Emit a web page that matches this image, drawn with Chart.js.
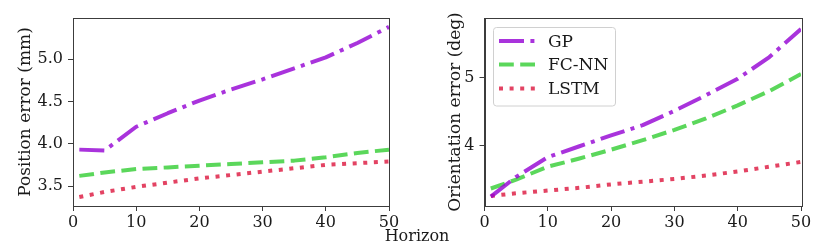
<!DOCTYPE html>
<html>
<head>
<meta charset="utf-8">
<script src="https://cdn.jsdelivr.net/npm/chart.js@4.4.1/dist/chart.umd.min.js"></script>
<style>
  html, body { margin: 0; padding: 0; background: #fff; }
  body { width: 830px; height: 242px; position: relative; overflow: hidden; }
  .pane { position: absolute; top: 0; width: 415px; height: 242px; }
  #horizon { position: absolute; left: 0; width: 834px; text-align: center; top: 226px;
             font-family: 'DejaVu Serif', serif; font-size: 16px; color: #1a1a1a; line-height: 19px; }
</style>
</head>
<body>
<div class="pane" style="left:0"><canvas id="cPos" width="415" height="242"></canvas></div>
<div class="pane" style="left:415px"><canvas id="cOri" width="415" height="242"></canvas></div>
<div id="horizon">Horizon</div>
<script>
// ---- data ----
const horizon = [1, 5, 10, 15, 20, 25, 30, 35, 40, 45, 50];
const seriesNames = ['GP', 'FC-NN', 'LSTM'];
const posGP   = [3.93, 3.92, 4.20, 4.36, 4.51, 4.64, 4.76, 4.89, 5.02, 5.19, 5.38];
const posFCNN = [3.62, 3.66, 3.70, 3.72, 3.74, 3.76, 3.78, 3.80, 3.84, 3.89, 3.93];
const posLSTM = [3.37, 3.43, 3.49, 3.54, 3.59, 3.63, 3.67, 3.71, 3.75, 3.77, 3.79];
const oriGP   = [3.25, 3.54, 3.83, 3.99, 4.15, 4.30, 4.51, 4.74, 4.98, 5.30, 5.71];
const oriFCNN = [3.37, 3.50, 3.69, 3.81, 3.94, 4.08, 4.23, 4.40, 4.59, 4.80, 5.05];
const oriLSTM = [3.26, 3.30, 3.34, 3.38, 3.43, 3.47, 3.51, 3.56, 3.62, 3.69, 3.76];
const xTicks = [0, 10, 20, 30, 40, 50];
const posYTicks = [3.5, 4.0, 4.5, 5.0];
const oriYTicks = [4, 5];

const FONT = "'DejaVu Serif', serif";
const colors = ['rgba(148,0,211,0.8)', 'rgba(50,205,50,0.8)', 'rgba(220,20,60,0.8)'];
const dashes = [[25, 6.4, 4, 6.4], [14.8, 6.4], [4, 6.6]];
const LW = 4;

function makeDatasets(arrs) {
  return arrs.map((arr, i) => ({
    label: seriesNames[i],
    data: horizon.map((h, j) => ({ x: h, y: arr[j] })),
    borderColor: colors[i],
    backgroundColor: colors[i],
    borderWidth: LW,
    borderDash: dashes[i],
    borderCapStyle: 'butt',
    borderJoinStyle: 'round',
    pointRadius: 0,
    tension: 0,
    fill: false
  }));
}

const framePlugin = {
  id: 'frame',
  afterDatasetsDraw(chart) {
    const a = chart.chartArea, ctx = chart.ctx;
    ctx.save();
    ctx.strokeStyle = '#3c3c3c';
    ctx.lineWidth = 1;
    ctx.strokeRect(Math.round(a.left) + 0.5, Math.round(a.top) + 0.5,
                   Math.round(a.right - a.left), Math.round(a.bottom - a.top));
    ctx.restore();
  }
};

const legendPlugin = {
  id: 'boxLegend',
  afterDraw(chart, args, opts) {
    if (!opts || !opts.show) return;
    const ctx = chart.ctx;
    ctx.save();
    const bx = 78.5, by = 27.5, bw = 122, bh = 78.5, r = 3;
    ctx.beginPath();
    ctx.moveTo(bx + r, by);
    ctx.arcTo(bx + bw, by, bx + bw, by + bh, r);
    ctx.arcTo(bx + bw, by + bh, bx, by + bh, r);
    ctx.arcTo(bx, by + bh, bx, by, r);
    ctx.arcTo(bx, by, bx + bw, by, r);
    ctx.closePath();
    ctx.fillStyle = 'rgba(255,255,255,0.8)';
    ctx.fill();
    ctx.strokeStyle = '#d0d0d0';
    ctx.lineWidth = 1;
    ctx.stroke();
    const ys = [41, 64.5, 88.5];
    chart.data.datasets.forEach((ds, i) => {
      ctx.beginPath();
      ctx.setLineDash(ds.borderDash);
      ctx.lineCap = 'butt';
      ctx.strokeStyle = ds.borderColor;
      ctx.lineWidth = ds.borderWidth;
      ctx.moveTo(84, ys[i]);
      ctx.lineTo(120, ys[i]);
      ctx.stroke();
      ctx.setLineDash([]);
      ctx.fillStyle = '#1a1a1a';
      ctx.font = '17px ' + FONT;
      ctx.textBaseline = 'middle';
      ctx.textAlign = 'left';
      ctx.fillText(ds.label, 133, ys[i] + 1.5);
    });
    ctx.restore();
  }
};

function makeChart(id, arrs, yTicks, yMin, yMax, yTitle, yWidth, padRight, titlePad, decimals, showLegend) {
  return new Chart(document.getElementById(id), {
    type: 'line',
    data: { datasets: makeDatasets(arrs) },
    plugins: [framePlugin, legendPlugin],
    options: {
      responsive: false,
      animation: false,
      events: [],
      layout: { padding: { top: 18, right: padRight, left: 0, bottom: 0 } },
      plugins: {
        legend: { display: false },
        tooltip: { enabled: false },
        boxLegend: { show: showLegend }
      },
      scales: {
        x: {
          type: 'linear', min: 0, max: 50,
          afterBuildTicks: (s) => { s.ticks = xTicks.map(v => ({ value: v })); },
          afterFit: (s) => { s.height = 36; },
          grid: { display: true, drawOnChartArea: false, drawTicks: true, tickLength: 5, color: '#3c3c3c' },
          border: { display: true, color: '#3c3c3c' },
          ticks: { font: { family: FONT, size: 16 }, color: '#1a1a1a', padding: 2, maxRotation: 0 }
        },
        y: {
          type: 'linear', min: yMin, max: yMax,
          afterBuildTicks: (s) => { s.ticks = yTicks.map(v => ({ value: v })); },
          afterFit: (s) => { s.width = yWidth; },
          grid: { display: true, drawOnChartArea: false, drawTicks: true, tickLength: 5, color: '#3c3c3c' },
          border: { display: true, color: '#3c3c3c' },
          ticks: { font: { family: FONT, size: 16 }, color: '#1a1a1a', padding: 5,
                   callback: (v) => Number(v).toFixed(decimals) },
          title: { display: true, text: yTitle, font: { family: FONT, size: 17 }, color: '#1a1a1a',
                   padding: { top: titlePad, bottom: 0 } }
        }
      }
    }
  });
}

makeChart('cPos', [posGP, posFCNN, posLSTM], posYTicks, 3.264, 5.485, 'Position error (mm)', 73, 26, 15, 1, false);
makeChart('cOri', [oriGP, oriFCNN, oriLSTM], oriYTicks, 3.113, 5.873, 'Orientation error (deg)', 69.5, 29, 30.5, 0, true);
</script>
</body>
</html>
